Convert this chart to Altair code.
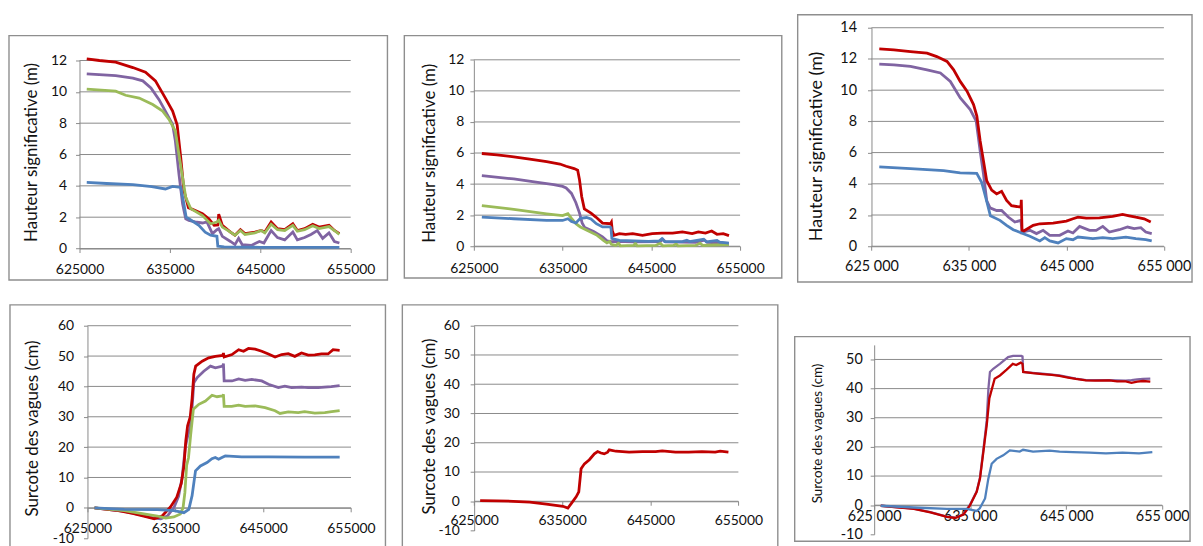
import altair as alt
import pandas as pd

# ---------------- data ----------------
X_TICKS = [625000, 635000, 645000, 655000]

# Panel 1 : Hauteur significative (m)
p1_red_x = [625800, 627200, 629000, 630900, 632300, 633400, 634500, 635300, 635800, 636200, 636550, 637050, 637500, 638600, 639300, 639900, 640300, 640400, 640800, 641700, 642200, 642800, 643300, 644400, 645100, 645500, 646200, 646900, 647700, 648600, 649100, 649900, 650800, 651500, 652600, 653200, 653750]
p1_red_y = [12.1, 12.0, 11.9, 11.55, 11.25, 10.7, 9.6, 8.77, 7.9, 5.8, 3.7, 2.6, 2.5, 2.22, 1.9, 1.48, 1.5, 2.2, 1.48, 1.05, 0.85, 1.2, 0.95, 1.05, 1.15, 1.05, 1.69, 1.27, 1.2, 1.58, 1.15, 1.27, 1.55, 1.37, 1.48, 1.15, 0.95]
p1_pur_x = [625800, 629000, 630900, 632000, 632900, 633800, 634500, 635300, 635600, 636000, 636400, 636750, 637100, 637800, 638600, 639100, 639700, 640200, 640400, 640800, 641700, 642200, 642600, 643000, 644000, 644900, 645400, 646200, 646900, 647700, 648600, 649100, 649900, 650600, 651300, 651900, 652600, 653200, 653750]
p1_pur_y = [11.15, 11.03, 10.88, 10.7, 10.25, 9.5, 8.77, 7.92, 6.87, 4.75, 2.85, 1.9, 1.8, 1.7, 1.63, 1.7, 0.95, 1.2, 1.27, 0.78, 0.45, 0.25, 0.65, 0.25, 0.2, 0.45, 0.35, 1.15, 0.7, 0.55, 1.05, 0.55, 0.7, 0.9, 1.15, 0.65, 1.0, 0.45, 0.35]
p1_grn_x = [625800, 629000, 630100, 631600, 633100, 634200, 634900, 635600, 636000, 636400, 636750, 637300, 638600, 639500, 640200, 640400, 640800, 641700, 642200, 642800, 643300, 644400, 645100, 645500, 646200, 646900, 647700, 648600, 649100, 649900, 650800, 651500, 652600, 653200, 653750]
p1_grn_y = [10.18, 10.04, 9.78, 9.6, 9.19, 8.77, 8.24, 7.5, 6.0, 4.55, 3.27, 2.55, 2.1, 1.58, 1.69, 1.8, 1.37, 1.05, 0.85, 1.15, 0.9, 1.0, 1.15, 1.0, 1.55, 1.2, 1.15, 1.48, 1.1, 1.2, 1.45, 1.27, 1.4, 1.15, 0.9]
p1_blu_x = [625800, 628000, 630900, 633000, 634500, 635300, 636200, 636500, 636800, 637100, 638200, 638900, 639500, 640200, 640300, 641000, 645000, 650000, 653750]
p1_blu_y = [4.22, 4.15, 4.08, 3.95, 3.8, 3.97, 3.9, 3.0, 2.0, 1.9, 1.48, 1.05, 0.85, 0.78, 0.15, 0.1, 0.08, 0.08, 0.08]

# Panel 2 : Hauteur significative (m)
p2_red_x = [625900, 627600, 629500, 631300, 633200, 634700, 635400, 636300, 636700, 636900, 637150, 637450, 638200, 638750, 639500, 640400, 640500, 640600, 640800, 641400, 642100, 642900, 644000, 645100, 646200, 647400, 648500, 649600, 650300, 651100, 651800, 652400, 653100, 653750]
p2_red_y = [5.97, 5.88, 5.76, 5.6, 5.44, 5.29, 5.15, 5.0, 4.9, 4.3, 3.2, 2.41, 2.13, 1.88, 1.49, 1.45, 1.55, 1.0, 0.7, 0.81, 0.77, 0.81, 0.7, 0.81, 0.85, 0.85, 0.92, 0.81, 0.92, 0.85, 0.98, 0.77, 0.81, 0.68]
p2_pur_x = [625900, 629500, 632000, 634000, 635000, 635400, 636000, 636500, 636900, 637200, 637500, 638500, 639500, 640000, 640500, 641000, 643000, 646000, 646300, 646600, 650000, 651000, 651300, 653750]
p2_pur_y = [4.54, 4.33, 4.12, 3.97, 3.85, 3.75, 3.4, 2.8, 2.15, 1.5, 1.2, 0.95, 0.6, 0.35, 0.3, 0.32, 0.28, 0.3, 0.45, 0.28, 0.25, 0.4, 0.25, 0.18]
p2_grn_x = [625900, 629500, 633200, 635000, 635600, 636000, 636500, 637000, 637800, 638900, 639600, 640000, 640300, 640500, 641000, 641300, 641500, 643000, 643200, 643400, 645500, 646000, 646300, 647500, 647800, 648000, 650000, 650500, 650800, 652000, 653750]
p2_grn_y = [2.62, 2.37, 2.09, 1.97, 2.1, 1.8, 1.45, 1.24, 1.02, 0.7, 0.38, 0.22, 0.3, 0.12, 0.05, 0.2, 0.03, 0.05, 0.2, 0.03, 0.05, 0.2, 0.03, 0.05, 0.15, 0.03, 0.05, 0.2, 0.05, 0.08, 0.1]
p2_blu_x = [625900, 629500, 633200, 635000, 635600, 636000, 636500, 637000, 637700, 638200, 638800, 639500, 640300, 640450, 640550, 641400, 644700, 645900, 646200, 646500, 648500, 649000, 649300, 650900, 651200, 652400, 652700, 653750]
p2_blu_y = [1.88, 1.77, 1.66, 1.66, 1.77, 1.6, 1.5, 1.8, 1.85, 1.75, 1.45, 1.24, 1.24, 1.2, 0.5, 0.38, 0.32, 0.35, 0.49, 0.3, 0.3, 0.38, 0.3, 0.45, 0.28, 0.38, 0.26, 0.2]

# Panel 3 : Hauteur significative (m)
p3_red_x = [625800, 627300, 629000, 630700, 631700, 632750, 633430, 634100, 634800, 635470, 635810, 636150, 636490, 636820, 637330, 637840, 638350, 638860, 639370, 640330, 640370, 640450, 641590, 642270, 643630, 644990, 645670, 646180, 647030, 648390, 649740, 650760, 651440, 652120, 652970, 653650]
p3_red_y = [12.64, 12.58, 12.47, 12.37, 12.15, 11.84, 11.3, 10.56, 9.93, 9.08, 8.34, 6.75, 5.47, 4.2, 3.6, 3.35, 3.52, 2.93, 2.6, 2.5, 2.97, 0.91, 1.34, 1.44, 1.48, 1.61, 1.76, 1.86, 1.8, 1.82, 1.91, 2.04, 1.95, 1.86, 1.76, 1.55]
p3_pur_x = [625800, 627300, 629000, 630700, 632070, 633090, 634110, 635130, 635740, 636150, 636490, 636820, 637160, 637840, 638350, 639030, 639710, 640330, 640450, 641250, 641930, 642610, 643290, 644310, 645160, 645670, 646350, 647370, 648050, 648730, 649400, 650420, 651270, 651950, 652630, 653140, 653750]
p3_pur_y = [11.67, 11.62, 11.52, 11.3, 11.1, 10.56, 9.5, 8.76, 8.02, 6.1, 4.62, 2.93, 2.46, 2.29, 2.29, 1.87, 1.55, 1.66, 0.91, 1.02, 0.81, 1.02, 0.7, 0.7, 0.98, 0.85, 1.27, 1.02, 1.02, 1.27, 0.91, 1.06, 1.23, 1.13, 1.19, 0.91, 0.81]
p3_blu_x = [625800, 629000, 632400, 634100, 635800, 636300, 636800, 637200, 638180, 638860, 639540, 640390, 641250, 642270, 642780, 643290, 644140, 644990, 645670, 646180, 647710, 648730, 649740, 651100, 652120, 653140, 653750]
p3_blu_y = [5.09, 4.97, 4.85, 4.7, 4.67, 4.1, 2.93, 1.95, 1.66, 1.34, 1.06, 0.85, 0.64, 0.34, 0.55, 0.34, 0.21, 0.49, 0.42, 0.59, 0.49, 0.55, 0.49, 0.59, 0.49, 0.42, 0.34]

# Panel 4 : Surcote des vagues (cm)
p4_red_x = [625800, 628250, 630130, 631640, 632600, 633530, 634450, 635170, 635680, 635990, 636190, 636400, 636700, 636910, 637110, 637320, 638060, 638800, 639560, 640400, 640480, 640560, 641450, 642210, 642770, 643330, 644090, 644840, 645600, 646360, 647110, 647860, 648610, 649370, 650130, 650880, 651640, 652390, 652960, 653710]
p4_red_y = [0, -0.8, -1.85, -2.9, -3.6, -2.6, 0.3, 3.5, 8, 14, 22, 27, 30, 36, 44, 46.7, 48.3, 49.4, 49.9, 50.2, 51, 49.7, 50.5, 52.1, 51.6, 52.5, 52.3, 51.6, 50.7, 49.7, 50.5, 50.8, 49.9, 51, 50.3, 50.4, 50.7, 50.7, 52.1, 51.9]
p4_pur_x = [625800, 629190, 631080, 632580, 633340, 634100, 634860, 635370, 635780, 636140, 636400, 636700, 636910, 637110, 637490, 638240, 639000, 639560, 640400, 640480, 640560, 641450, 642210, 642950, 643710, 644840, 645600, 646730, 647470, 648240, 649370, 650130, 651260, 652760, 653710]
p4_pur_y = [0, -1.2, -2.3, -3.4, -3.6, -2.7, 0.2, 3.8, 10, 20, 23.5, 26.5, 33, 41.2, 42.9, 45, 46.7, 46.1, 46.7, 47.5, 41.8, 41.8, 42.5, 42.0, 42.3, 41.8, 40.7, 39.6, 40.1, 39.6, 39.8, 39.6, 39.6, 39.9, 40.3]
p4_grn_x = [625800, 629190, 632960, 633900, 634840, 635580, 635880, 636090, 636290, 636500, 636750, 637060, 637680, 638430, 639180, 639750, 640400, 640480, 640560, 641420, 642210, 642950, 644090, 645220, 646360, 646920, 647860, 648990, 649720, 650880, 652020, 652800, 653710]
p4_grn_y = [0, -0.9, -2.7, -3.4, -3.0, -2.0, 0, 5, 14, 16.5, 24, 32.5, 34.1, 35.2, 37.1, 36.6, 36.9, 37.4, 33.4, 33.4, 33.8, 33.4, 33.6, 33.0, 32.0, 31.1, 31.6, 31.4, 31.7, 31.2, 31.4, 31.7, 32.0]
p4_blu_x = [625800, 629190, 632950, 634850, 635980, 636540, 636910, 637300, 637860, 638610, 639170, 639550, 639930, 640310, 640690, 642550, 645620, 649720, 653710]
p4_blu_y = [0, -0.5, -0.6, -0.9, -1.6, -0.5, 4.0, 12.2, 13.8, 14.9, 16.2, 16.6, 16.0, 16.6, 17.1, 16.8, 16.8, 16.7, 16.7]

# Panel 5 : Surcote des vagues (cm)
p5_red_x = [625680, 627560, 629440, 631320, 633200, 635080, 635640, 636020, 636580, 636880, 637140, 637520, 638080, 638650, 639020, 639400, 639770, 640150, 640340, 641090, 642590, 644100, 645600, 646350, 647860, 649360, 650860, 652370, 652930, 653870]
p5_red_y = [0.2, 0.1, 0, -0.3, -1.0, -1.7, -2.3, -0.8, 1.5, 3.2, 11.1, 12.8, 14.2, 16.2, 17.0, 16.5, 16.2, 16.8, 17.6, 17.1, 16.8, 17.0, 17.0, 17.2, 16.8, 16.8, 17.0, 16.8, 17.1, 16.8]

# Panel 6 : Surcote des vagues (cm)
p6_blu_x = [625690, 629130, 632580, 634650, 635680, 636000, 636550, 636890, 637240, 637750, 638440, 639130, 640160, 640510, 641550, 643270, 644310, 645690, 647410, 649140, 650860, 652590, 653970]
p6_blu_y = [-0.2, -0.8, -1.3, -1.3, -2.0, -1.1, 2.3, 9.1, 14.2, 15.9, 17.1, 18.8, 18.4, 19.0, 18.4, 18.7, 18.4, 18.2, 18.0, 17.8, 18.0, 17.8, 18.2]
p6_red_x = [625690, 629130, 630860, 632580, 633440, 634300, 634990, 635680, 636020, 636370, 636550, 636720, 637000, 637550, 638100, 638800, 639440, 639800, 640270, 640450, 640520, 641500, 642500, 643500, 644300, 645200, 646000, 647060, 648000, 649470, 650300, 651200, 651800, 652400, 653000, 653760]
p6_red_y = [-0.2, -1.3, -2.5, -4.0, -4.4, -3.2, 0.0, 4.6, 9.1, 18.2, 23, 27.3, 36.7, 43.4, 44.5, 46.5, 48.5, 48.1, 48.9, 48.5, 45.7, 45.3, 45.0, 44.7, 44.4, 43.8, 43.3, 42.8, 42.7, 42.8, 42.5, 42.5, 42.0, 42.4, 42.6, 42.4]
p6_pur_x = [625690, 629130, 630860, 632580, 633440, 634300, 634990, 635680, 636020, 636370, 636550, 636720, 636900, 637060, 637400, 638090, 638950, 639470, 640330, 640450, 640520, 641500, 642500, 643500, 644300, 645200, 646000, 647060, 648000, 649470, 650300, 651200, 651800, 652400, 653000, 653760]
p6_pur_y = [-0.2, -1.2, -2.4, -3.9, -4.3, -3.1, 0.2, 4.8, 9.5, 19, 24, 29, 40, 45.7, 46.8, 48.5, 50.8, 51.2, 51.2, 51.0, 45.7, 45.4, 45.1, 44.8, 44.5, 43.9, 43.4, 42.9, 42.9, 42.9, 42.8, 42.7, 42.9, 43.2, 43.3, 43.4]

HS_TICKS_12 = [0, 2, 4, 6, 8, 10, 12]
HS_TICKS_14 = [0, 2, 4, 6, 8, 10, 12, 14]
SU_TICKS_60 = [-10, 0, 10, 20, 30, 40, 50, 60]
SU_GRID_60 = [0, 10, 20, 30, 40, 50, 60]
SU_TICKS_50 = [-10, 0, 10, 20, 30, 40, 50]
SU_GRID_50 = [0, 10, 20, 30, 40, 50]

T_HS = "Hauteur significative (m)"
T_SU = "Surcote des vagues (cm)"

# ---------------- style ----------------
C_BLUE = "#4F81BD"
C_RED = "#C00000"
C_GREEN = "#9BBB59"
C_PURPLE = "#8064A2"
GRID = "#8A8A8A"
FRAME = "#8E8E8E"
TXT = "#111111"
FONT = "Lato"


def make_panel(W, H, frame, xrange, ydomain, yrange, yticks, grid, series, title,
               tpos, fs_tick, fs_title, xpad, ypad, spaced, lw):
    xs = alt.Scale(domain=[625000, 655000], range=list(xrange), nice=False, zero=False)
    ys = alt.Scale(domain=list(ydomain), range=list(yrange), nice=False, zero=False)
    y0 = yrange[0] + (0 - ydomain[0]) / (ydomain[1] - ydomain[0]) * (yrange[1] - yrange[0])
    xexpr = ("replace(format(datum.value, ','), ',', ' ')" if spaced
             else "format(datum.value, 'd')")
    xaxis = alt.Axis(values=X_TICKS, orient="bottom", offset=y0 - H, grid=False,
                     domainColor=GRID, domainWidth=1, tickColor=GRID, tickSize=4,
                     labelFont=FONT, labelFontSize=fs_tick, labelColor=TXT,
                     labelPadding=xpad, labelExpr=xexpr, labelFlush=False,
                     labelOverlap=False, title=None)
    yaxis = alt.Axis(values=yticks, orient="left", offset=-xrange[0], grid=False,
                     domainColor=GRID, domainWidth=1, tickColor=GRID, tickSize=4,
                     labelFont=FONT, labelFontSize=fs_tick, labelColor=TXT,
                     labelPadding=ypad, labelExpr="datum.value + ''",
                     labelFlush=False, labelOverlap=False,
                     title=title, titleFont=FONT, titleFontSize=fs_title,
                     titleFontWeight="normal", titleColor=TXT,
                     titleX=tpos[0] - xrange[0], titleY=tpos[1],
                     titleAngle=270, titleBaseline="middle", titleAlign="center")
    box = alt.Chart(pd.DataFrame({"k": [0]})).mark_rect(
        filled=False, stroke=FRAME, strokeWidth=1.4).encode(
        x=alt.value(frame[0]), x2=alt.value(frame[2]),
        y=alt.value(frame[1]), y2=alt.value(frame[3]))
    gl = alt.Chart(pd.DataFrame({"g": grid})).mark_rule(color=GRID, strokeWidth=1).encode(
        y=alt.Y("g:Q", scale=ys, axis=yaxis),
        x=alt.XDatum(625000, type="quantitative", scale=xs, axis=xaxis),
        x2=alt.X2Datum(655000))
    layers = [box, gl]
    for xv, yv, col in series:
        df = pd.DataFrame(list(zip(xv, yv)), columns=["x", "y"])
        layers.append(alt.Chart(df).mark_line(color=col, strokeWidth=lw).encode(
            x=alt.X("x:Q", scale=xs, axis=xaxis),
            y=alt.Y("y:Q", scale=ys, axis=yaxis)))
    return alt.layer(*layers).properties(width=W, height=H)


H1, H2 = 287, 255
W1, W2, W3 = 390, 397, 408

p1 = make_panel(W1, H1, (1, 26, 382, 272), (72, 345), (0, 12), (240.3, 51), HS_TICKS_12, HS_TICKS_12,
                [(p1_pur_x, p1_pur_y, C_PURPLE), (p1_red_x, p1_red_y, C_RED),
                 (p1_grn_x, p1_grn_y, C_GREEN), (p1_blu_x, p1_blu_y, C_BLUE)],
                T_HS, (24, 143), 14, 17, 10, 9, False, 2.8)
p2 = make_panel(W2, H1, (9, 26, 389, 270), (79, 347), (0, 12), (238, 50.3), HS_TICKS_12, HS_TICKS_12,
                [(p2_pur_x, p2_pur_y, C_PURPLE), (p2_red_x, p2_red_y, C_RED),
                 (p2_grn_x, p2_grn_y, C_GREEN), (p2_blu_x, p2_blu_y, C_BLUE)],
                T_HS, (34, 144), 14, 17, 11, 6, False, 2.8)
p3 = make_panel(W3, H1, (8, 5, 405, 274), (82.3, 376.7), (0, 14), (238, 18), HS_TICKS_14, HS_TICKS_14,
                [(p3_pur_x, p3_pur_y, C_PURPLE), (p3_red_x, p3_red_y, C_RED),
                 (p3_blu_x, p3_blu_y, C_BLUE)],
                T_HS, (27, 137), 14.5, 18, 9, 11, True, 2.8)
p4 = make_panel(W1, H2, (2, 10, 380, 262), (80, 345.3), (-10, 60), (244.9, 31), SU_TICKS_60, SU_GRID_60,
                [(p4_pur_x, p4_pur_y, C_PURPLE), (p4_red_x, p4_red_y, C_RED),
                 (p4_grn_x, p4_grn_y, C_GREEN), (p4_blu_x, p4_blu_y, C_BLUE)],
                T_SU, (25, 134), 14, 17, 10, 10, False, 2.8)
p5 = make_panel(W2, H2, (7, 10, 385, 262), (79.3, 345.3), (-10, 60), (237.2, 31), SU_TICKS_60, SU_GRID_60,
                [(p5_red_x, p5_red_y, C_RED)],
                T_SU, (34, 132), 14, 17, 8, 11, False, 2.8)
p6 = make_panel(W3, H2, (5, 42, 403, 248), (85, 375), (-10, 55), (241, 50.3), SU_TICKS_50, SU_GRID_50,
                [(p6_pur_x, p6_pur_y, C_PURPLE), (p6_red_x, p6_red_y, C_RED),
                 (p6_blu_x, p6_blu_y, C_BLUE)],
                T_SU, (28, 139), 14.5, 13.5, 0, 8, True, 2.3)

chart = alt.concat(p1, p2, p3, p4, p5, p6, columns=3, spacing=0, bounds="flush",
                   align="each").properties(padding=0).configure_view(strokeWidth=0)

chart.save("out.html", embed_options={"renderer": "svg", "actions": False})
